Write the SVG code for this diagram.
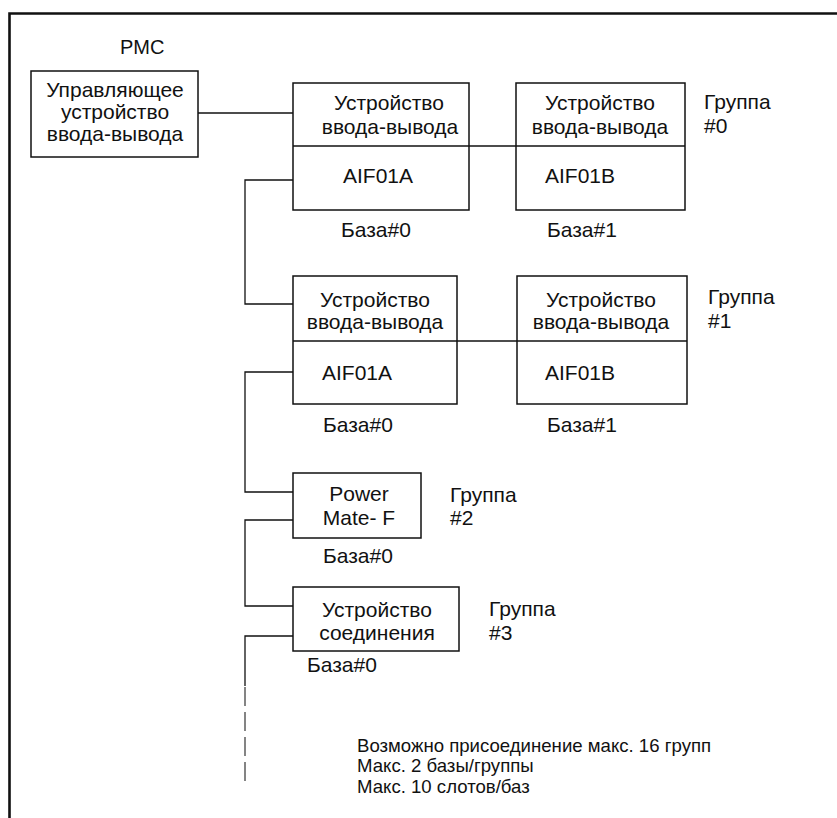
<svg xmlns="http://www.w3.org/2000/svg" width="837" height="818" viewBox="0 0 837 818">
<style>
text{font-family:"Liberation Sans",Arial,sans-serif;font-size:21px;fill:#111}
.m{text-anchor:middle}
.n{font-size:18.6px}
.p{font-size:20px}
.box{fill:#fff;stroke:#111;stroke-width:1.5}
.ln{fill:none;stroke:#111;stroke-width:1.3}
.dash{fill:none;stroke:#666;stroke-width:1.6;stroke-dasharray:19 6}
</style>
<rect width="837" height="818" fill="#fff"/>
<path d="M9.5 818V13.5H837" fill="none" stroke="#111" stroke-width="2.6"/>
<text class="p" x="120" y="54">PMC</text>
<g id="connectors">
<path class="ln" d="M198 113H293"/>
<path class="ln" d="M469 146H516"/>
<path class="ln" d="M293 180H245V304H293"/>
<path class="ln" d="M457 341H517"/>
<path class="ln" d="M293 372H245V492H293"/>
<path class="ln" d="M293 520H245V606H293"/>
<path class="ln" d="M293 636H245V686"/>
<path class="dash" d="M245 687V787"/>
</g>
<g id="ctrl">
<rect class="box" x="31" y="71" width="167" height="86"/>
<text class="m" x="115" y="97">Управляющее</text>
<text class="m" x="115" y="119">устройство</text>
<text class="m" x="115" y="141">ввода-вывода</text>
</g>
<g id="g0a">
<rect class="box" x="293" y="83" width="176" height="127"/>
<path class="ln" d="M293 146H469"/>
<text class="m" x="389" y="110">Устройство</text>
<text class="m" x="390" y="134">ввода-вывода</text>
<text x="343" y="183">AIF01A</text>
<text x="341" y="237">База#0</text>
</g>
<g id="g0b">
<rect class="box" x="516" y="83" width="169" height="127"/>
<path class="ln" d="M516 146H685"/>
<text class="m" x="600" y="110">Устройство</text>
<text class="m" x="600" y="134">ввода-вывода</text>
<text x="545" y="183">AIF01B</text>
<text x="547" y="237">База#1</text>
</g>
<g id="grp0">
<text x="704" y="109">Группа</text>
<text x="704" y="133">#0</text>
</g>
<g id="g1a">
<rect class="box" x="293" y="276" width="164" height="128"/>
<path class="ln" d="M293 341H457"/>
<text class="m" x="375" y="307">Устройство</text>
<text class="m" x="375" y="329">ввода-вывода</text>
<text x="322" y="380">AIF01A</text>
<text x="323" y="432">База#0</text>
</g>
<g id="g1b">
<rect class="box" x="517" y="276" width="170" height="128"/>
<path class="ln" d="M517 341H687"/>
<text class="m" x="601" y="307">Устройство</text>
<text class="m" x="601" y="329">ввода-вывода</text>
<text x="545" y="380">AIF01B</text>
<text x="547" y="432">База#1</text>
</g>
<g id="grp1">
<text x="708" y="304">Группа</text>
<text x="708" y="328">#1</text>
</g>
<g id="pm">
<rect class="box" x="293" y="473" width="128" height="65"/>
<text class="m" x="359" y="501">Power</text>
<text class="m" x="359" y="525">Mate- F</text>
<text x="323" y="563">База#0</text>
</g>
<g id="grp2">
<text x="450" y="502">Группа</text>
<text x="450" y="525">#2</text>
</g>
<g id="conn">
<rect class="box" x="293" y="587" width="166" height="64"/>
<text class="m" x="377" y="617">Устройство</text>
<text class="m" x="377" y="640">соединения</text>
<text x="307" y="672">База#0</text>
</g>
<g id="grp3">
<text x="489" y="616">Группа</text>
<text x="489" y="640">#3</text>
</g>
<g id="notes">
<text class="n" x="357" y="752">Возможно присоединение макс. 16 групп</text>
<text class="n" x="357" y="772">Макс. 2 базы/группы</text>
<text class="n" x="357" y="793">Макс. 10 слотов/баз</text>
</g>
</svg>
